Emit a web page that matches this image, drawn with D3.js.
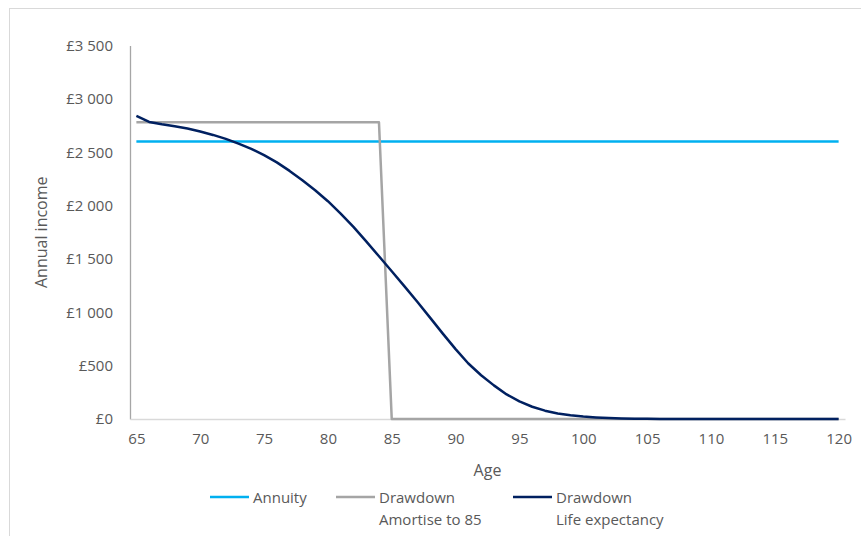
<!DOCTYPE html>
<html>
<head>
<meta charset="utf-8">
<script src="https://cdn.jsdelivr.net/npm/d3@7"></script>
<style>
  html, body { margin: 0; padding: 0; background: #fff; }
  svg { display: block; font-family: "Open Sans", sans-serif; }
</style>
</head>
<body>
<div id="chart"></div>
<script>
// categories (age)
const ages = [65, 66, 67, 68, 69, 70, 71, 72, 73, 74, 75, 76, 77, 78, 79, 80, 81, 82, 83, 84,
  85, 86, 87, 88, 89, 90, 91, 92, 93, 94, 95, 96, 97, 98, 99, 100, 101, 102, 103, 104,
  105, 106, 107, 108, 109, 110, 111, 112, 113, 114, 115, 116, 117, 118, 119, 120];

const annuity = [2600, 2600, 2600, 2600, 2600, 2600, 2600, 2600, 2600, 2600, 2600, 2600, 2600, 2600,
  2600, 2600, 2600, 2600, 2600, 2600, 2600, 2600, 2600, 2600, 2600, 2600, 2600, 2600,
  2600, 2600, 2600, 2600, 2600, 2600, 2600, 2600, 2600, 2600, 2600, 2600, 2600, 2600,
  2600, 2600, 2600, 2600, 2600, 2600, 2600, 2600, 2600, 2600, 2600, 2600, 2600, 2600];

const amortise85 = [2780, 2780, 2780, 2780, 2780, 2780, 2780, 2780, 2780, 2780, 2780, 2780, 2780,
  2780, 2780, 2780, 2780, 2780, 2780, 2780,
  0, 0, 0, 0, 0, 0, 0, 0, 0, 0, 0, 0, 0, 0, 0, 0, 0, 0, 0, 0, 0, 0, 0, 0, 0, 0, 0, 0, 0, 0,
  0, 0, 0, 0, 0, 0];

const lifeExpectancy = [2840, 2784, 2762, 2743, 2722, 2694, 2662, 2625, 2581, 2532, 2472, 2405,
  2325, 2238, 2144, 2041, 1925, 1800, 1665, 1525, 1385, 1243, 1098, 950, 800, 655, 520, 410,
  315, 230, 165, 115, 78, 52, 35, 23, 15, 9, 5, 3, 2, 1,
  0, 0, 0, 0, 0, 0, 0, 0, 0, 0, 0, 0, 0, 0];

const yTicks = [0, 500, 1000, 1500, 2000, 2500, 3000, 3500];
const xTickLabels = [65, 70, 75, 80, 85, 90, 95, 100, 105, 110, 115, 120];

const series = [
  { name: ["Annuity"], values: annuity, color: "#00B0F0" },
  { name: ["Drawdown", "Amortise to 85"], values: amortise85, color: "#A5A5A5" },
  { name: ["Drawdown", "Life expectancy"], values: lifeExpectancy, color: "#002060" }
];

const width = 861, height = 536;
const margin = { left: 130, right: 16, top: 45.5, bottom: 117 };

const svg = d3.select("#chart").append("svg")
  .attr("width", width)
  .attr("height", height);

// chart area border
svg.append("rect")
  .attr("x", 9.5).attr("y", 8.5)
  .attr("width", width + 20).attr("height", height + 20)
  .attr("fill", "none")
  .attr("stroke", "#D9D9D9");

const x = d3.scalePoint()
  .domain(ages)
  .range([margin.left, width - margin.right])
  .padding(0.5);

const y = d3.scaleLinear()
  .domain([0, 3500])
  .range([height - margin.bottom, margin.top]);

const fmt = v => "£" + (v >= 1000 ? Math.floor(v / 1000) + " " + d3.format("03d")(v % 1000) : v);

// y axis
const yAxis = svg.append("g")
  .attr("transform", `translate(${margin.left},0)`)
  .call(d3.axisLeft(y).tickValues(yTicks).tickFormat(fmt).tickSize(0).tickPadding(17));
yAxis.select(".domain").attr("stroke", "#A6A6A6").attr("stroke-width", 1.3);
yAxis.selectAll("text").attr("fill", "#595959").style("font-size", "15px")
  .style("font-family", "Open Sans, sans-serif");

// x axis
const xAxis = svg.append("g")
  .attr("transform", `translate(0,${y(0)})`)
  .call(d3.axisBottom(x).tickValues(xTickLabels).tickSize(0).tickPadding(14));
xAxis.select(".domain").attr("stroke", "#D9D9D9").attr("stroke-width", 1.3);
xAxis.selectAll("text").attr("fill", "#595959").style("font-size", "15px")
  .style("font-family", "Open Sans, sans-serif");

// axis titles
svg.append("text")
  .attr("x", (margin.left + width - margin.right) / 2)
  .attr("y", 476)
  .attr("text-anchor", "middle")
  .attr("fill", "#595959")
  .style("font-size", "16px")
  .text("Age");

svg.append("text")
  .attr("transform", `translate(47,${(y(0) + y(3500)) / 2}) rotate(-90)`)
  .attr("text-anchor", "middle")
  .attr("fill", "#595959")
  .style("font-size", "16px")
  .text("Annual income");

// lines
const line = d3.line()
  .x((d, i) => x(ages[i]))
  .y(d => y(d));

svg.append("g").selectAll("path")
  .data(series)
  .join("path")
  .attr("d", d => line(d.values))
  .attr("fill", "none")
  .attr("stroke", d => d.color)
  .attr("stroke-width", 2.5)
  .attr("stroke-linejoin", "round");

// legend
const legendX = [210, 336, 513];
const legend = svg.append("g").selectAll("g")
  .data(series)
  .join("g")
  .attr("transform", (d, i) => `translate(${legendX[i]},497)`);

legend.append("line")
  .attr("x1", 0).attr("x2", 39)
  .attr("stroke", d => d.color)
  .attr("stroke-width", 2.5);

legend.append("text")
  .attr("x", 43)
  .attr("y", 5.5)
  .attr("fill", "#595959")
  .style("font-size", "15px")
  .selectAll("tspan")
  .data(d => d.name)
  .join("tspan")
  .attr("x", 43)
  .attr("dy", (d, i) => i === 0 ? 0 : 22)
  .text(d => d);
</script>
</body>
</html>
